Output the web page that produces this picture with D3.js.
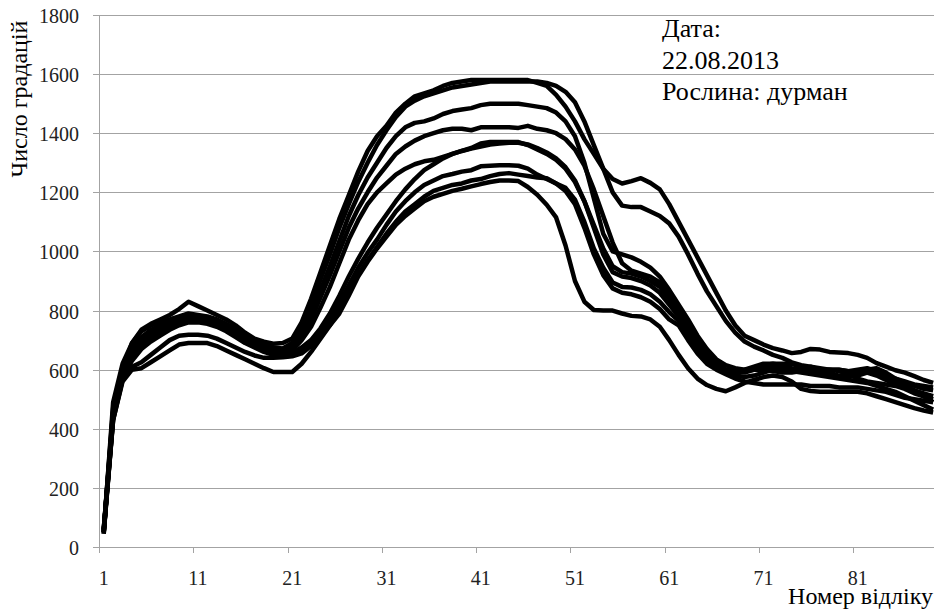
<!DOCTYPE html>
<html>
<head>
<meta charset="utf-8">
<script src="https://cdn.jsdelivr.net/npm/d3@7"></script>
<style>
  body { margin: 0; background: #fff; }
  svg { display: block; }
  text { font-family: "Liberation Serif", "DejaVu Serif", "Times New Roman", serif; }
</style>
</head>
<body>
<svg id="chart"></svg>
<script>
// reading numbers on the x axis and the labelled ones
const readings = d3.range(1, 90);
const xTickLabels = [1, 11, 21, 31, 41, 51, 61, 71, 81];
const yTickValues = [0, 200, 400, 600, 800, 1000, 1200, 1400, 1600, 1800];

const noteLines = ["Дата:", "22.08.2013", "Рослина: дурман"];

const run1 = [50, 455, 600, 690, 735, 755, 770, 785, 805, 830,
  815, 800, 785, 770, 750, 725, 705, 695, 688, 690,
  705, 760, 840, 930, 1020, 1110, 1190, 1270, 1340, 1390,
  1425, 1470, 1500, 1525, 1535, 1545, 1560, 1570, 1575, 1580,
  1580, 1580, 1580, 1580, 1580, 1580, 1570, 1560, 1530, 1490,
  1440, 1380, 1330, 1280, 1245, 1230, 1238, 1248, 1232, 1210,
  1160, 1100, 1040, 980, 920, 860, 800, 750, 715, 700,
  685, 673, 665, 656, 660, 670, 668, 660, 658, 656,
  650, 640, 622, 610, 598, 590, 578, 565, 555];
const run2 = [45, 490, 620, 690, 730, 750, 760, 770, 780, 790,
  785, 780, 770, 755, 735, 715, 700, 685, 675, 672,
  690, 740, 820, 905, 990, 1080, 1160, 1235, 1300, 1360,
  1410, 1455, 1490, 1510, 1525, 1535, 1545, 1555, 1560, 1565,
  1570, 1575, 1575, 1575, 1575, 1575, 1575, 1570, 1560, 1540,
  1505, 1440, 1360, 1280, 1200, 1155, 1150, 1150, 1135, 1120,
  1095, 1050, 990, 925, 865, 815, 765, 725, 695, 678,
  665, 650, 640, 625, 615, 610, 605, 600, 600, 595,
  600, 605, 595, 580, 570, 560, 550, 545, 540];
const run3 = [55, 470, 600, 670, 710, 735, 750, 765, 775, 785,
  780, 775, 765, 750, 735, 715, 695, 680, 670, 665,
  680, 720, 790, 870, 950, 1035, 1120, 1190, 1250, 1300,
  1350, 1390, 1420, 1435, 1440, 1450, 1465, 1475, 1480, 1485,
  1495, 1500, 1500, 1500, 1500, 1495, 1490, 1485, 1470, 1440,
  1390, 1300, 1180, 1060, 1000, 990, 980, 965, 945, 915,
  870, 820, 770, 715, 670, 635, 615, 605, 600, 605,
  615, 620, 620, 620, 610, 605, 600, 600, 600, 595,
  590, 600, 605, 590, 570, 555, 545, 535, 530];
const run4 = [50, 460, 590, 660, 700, 725, 745, 760, 770, 780,
  775, 770, 760, 745, 725, 705, 690, 675, 665, 660,
  670, 710, 770, 845, 920, 1000, 1080, 1145, 1200, 1250,
  1290, 1330, 1355, 1375, 1390, 1400, 1410, 1415, 1415, 1410,
  1420, 1420, 1420, 1420, 1418, 1425, 1415, 1410, 1400, 1380,
  1345, 1290, 1210, 1120, 1030, 960, 935, 925, 915, 895,
  855, 800, 750, 700, 655, 625, 600, 592, 590, 600,
  610, 610, 605, 600, 600, 610, 600, 590, 580, 575,
  580, 590, 580, 565, 550, 540, 530, 520, 510];
const run5 = [60, 445, 580, 650, 690, 715, 735, 750, 760, 770,
  770, 765, 755, 740, 720, 700, 685, 670, 660, 655,
  665, 700, 745, 810, 880, 960, 1040, 1105, 1160, 1200,
  1230, 1260, 1280, 1295, 1305, 1310, 1320, 1330, 1340, 1350,
  1365, 1370, 1370, 1370, 1370, 1360, 1345, 1330, 1310, 1280,
  1235, 1170, 1090, 1010, 950, 930, 925, 915, 900, 880,
  840, 790, 740, 690, 645, 615, 600, 595, 600, 610,
  620, 620, 615, 605, 600, 595, 595, 600, 595, 585,
  570, 560, 555, 550, 545, 535, 520, 510, 500];
const run6 = [45, 440, 575, 640, 680, 705, 725, 740, 755, 765,
  765, 760, 750, 735, 715, 695, 680, 665, 655, 650,
  655, 675, 700, 740, 790, 850, 915, 975, 1030, 1080,
  1125, 1170, 1210, 1245, 1275, 1295, 1315, 1330, 1340, 1348,
  1355, 1362, 1365, 1368, 1368, 1362, 1350, 1335, 1315, 1285,
  1240, 1170, 1080, 990, 930, 915, 910, 900, 885, 860,
  820, 780, 730, 680, 640, 610, 595, 590, 595, 600,
  600, 595, 590, 590, 595, 600, 590, 580, 575, 580,
  590, 600, 590, 575, 560, 545, 530, 510, 490];
const run7 = [55, 435, 570, 630, 670, 695, 715, 735, 750, 760,
  760, 755, 745, 730, 710, 690, 675, 660, 650, 645,
  648, 665, 690, 735, 770, 825, 885, 945, 995, 1040,
  1090, 1135, 1170, 1200, 1225, 1240, 1255, 1262, 1270, 1275,
  1288, 1290, 1292, 1292, 1290, 1280, 1260, 1245, 1230, 1215,
  1175, 1100, 1010, 945, 895, 880, 878, 870, 855, 830,
  795, 765, 715, 670, 635, 605, 590, 580, 575, 580,
  590, 600, 600, 595, 590, 585, 580, 575, 570, 565,
  560, 555, 545, 535, 525, 510, 495, 480, 465];
const run8 = [50, 430, 565, 610, 625, 650, 675, 700, 715, 718,
  718, 715, 705, 690, 675, 660, 648, 640, 640, 642,
  645, 655, 680, 725, 750, 805, 865, 920, 970, 1015,
  1060, 1100, 1135, 1160, 1185, 1205, 1215, 1225, 1230, 1240,
  1245, 1255, 1262, 1265, 1260, 1255, 1250, 1248, 1230, 1205,
  1160, 1080, 990, 920, 875, 860, 855, 845, 830, 805,
  770, 750, 700, 655, 620, 600, 585, 570, 560, 555,
  550, 550, 550, 550, 550, 545, 545, 545, 540, 540,
  540, 535, 530, 525, 515, 505, 500, 495, 490];
const run9 = [60, 430, 560, 600, 605, 625, 645, 665, 685, 690,
  690, 690, 680, 665, 650, 635, 620, 605, 592, 592,
  592, 620, 660, 705, 750, 790, 850, 915, 965, 1010,
  1050, 1090, 1120, 1145, 1170, 1185, 1195, 1205, 1212, 1220,
  1228, 1235, 1240, 1240, 1238, 1218, 1192, 1158, 1115, 1020,
  900, 830, 802, 800, 800, 790, 782, 780, 770, 745,
  700, 650, 605, 570, 548, 535, 527, 540, 555, 565,
  575, 580, 575, 560, 535, 528, 525, 525, 525, 525,
  525, 520, 510, 500, 490, 480, 470, 462, 455];

const runs = [run1, run2, run3, run4, run5, run6, run7, run8, run9];

const width = 934;
const height = 609;
const left = 99;
const gridColor = "#a3a3a3";
const serif = "'Liberation Serif', 'DejaVu Serif', 'Times New Roman', serif";

const svg = d3.select("#chart")
    .attr("width", width)
    .attr("height", height);

svg.append("rect")
    .attr("width", width)
    .attr("height", height)
    .attr("fill", "#fff");

const x = d3.scaleBand()
    .domain(readings)
    .range([left, left + readings.length * 9.425]);

const y = d3.scaleLinear()
    .domain([0, 1800])
    .range([547, 15]);

const cx = d => x(d) + x.bandwidth() / 2;
const crisp = v => Math.round(v) + 0.5;

// horizontal gridlines (the 0 line doubles as the x axis)
svg.append("g")
    .selectAll("line")
    .data(yTickValues)
    .join("line")
    .attr("x1", left - 6)
    .attr("x2", width)
    .attr("y1", d => crisp(y(d)))
    .attr("y2", d => crisp(y(d)))
    .attr("stroke", gridColor)
    .attr("stroke-width", 1);

// y axis line
svg.append("line")
    .attr("x1", crisp(left))
    .attr("x2", crisp(left))
    .attr("y1", y(1800))
    .attr("y2", y(0) + 6)
    .attr("stroke", gridColor);

// x tick marks at category boundaries
svg.append("g")
    .selectAll("line")
    .data(xTickLabels)
    .join("line")
    .attr("x1", d => crisp(x(d)))
    .attr("x2", d => crisp(x(d)))
    .attr("y1", y(0))
    .attr("y2", y(0) + 6)
    .attr("stroke", gridColor);

// y tick labels
svg.append("g")
    .selectAll("text")
    .data(yTickValues)
    .join("text")
    .attr("x", 79)
    .attr("y", d => y(d) + 8)
    .attr("text-anchor", "end")
    .style("font-family", serif)
    .style("font-size", "20px")
    .attr("fill", "#222")
    .text(d => d);

// x tick labels
svg.append("g")
    .selectAll("text")
    .data(xTickLabels)
    .join("text")
    .attr("x", d => cx(d))
    .attr("y", 585)
    .attr("text-anchor", "middle")
    .style("font-family", serif)
    .style("font-size", "20px")
    .attr("fill", "#222")
    .text(d => d);

// curves
const line = d3.line()
    .x((d, i) => cx(readings[i]))
    .y(d => y(d));

svg.append("g")
    .selectAll("path")
    .data(runs)
    .join("path")
    .attr("d", line)
    .attr("fill", "none")
    .attr("stroke", "#000")
    .attr("stroke-width", 4.5)
    .attr("stroke-linejoin", "round");

// axis titles
svg.append("text")
    .attr("transform", "translate(27,99) rotate(-90)")
    .attr("text-anchor", "middle")
    .style("font-family", serif)
    .style("font-size", "24px")
    .text("Число градацій");

svg.append("text")
    .attr("x", 933)
    .attr("y", 604)
    .attr("text-anchor", "end")
    .style("font-family", serif)
    .style("font-size", "24px")
    .text("Номер відліку");

// note in the top right
svg.append("g")
    .selectAll("text")
    .data(noteLines)
    .join("text")
    .attr("x", 662)
    .attr("y", (d, i) => 37 + i * 31.5)
    .style("font-family", serif)
    .style("font-size", "26px")
    .text(d => d);
</script>
</body>
</html>
